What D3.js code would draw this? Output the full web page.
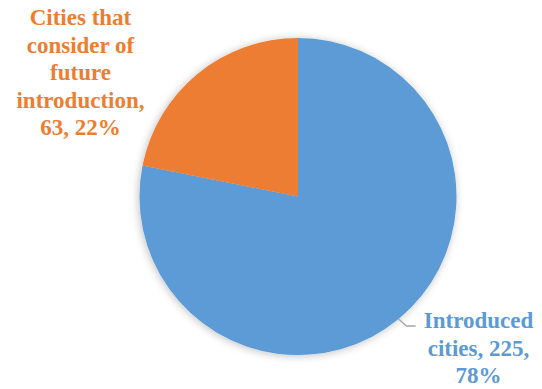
<!DOCTYPE html>
<html>
<head>
<meta charset="utf-8">
<script src="https://cdn.jsdelivr.net/npm/d3@7"></script>
<style>
  html, body { margin: 0; padding: 0; background: #fff; }
  svg { display: block; }
  .lbl { font-family: "Liberation Serif", Tinos, "Times New Roman", "DejaVu Serif", serif; font-weight: bold; font-size: 23px; }
</style>
</head>
<body>
<svg id="chart" width="542" height="389"></svg>
<script>
// Survey of cities: introduced vs. considering future introduction
const categories = ["Introduced cities", "Cities that consider of future introduction"];
const values = [225, 63];
const percents = ["78%", "22%"];
const colors = ["#5B9BD5", "#ED7D31"];

const svg = d3.select("#chart");
const cx = 298, cy = 196.5, radius = 158.5;

// soft drop shadow under the pie
const defs = svg.append("defs");
const f = defs.append("filter").attr("id", "shadow")
  .attr("x", "-20%").attr("y", "-20%").attr("width", "140%").attr("height", "140%");
f.append("feGaussianBlur").attr("in", "SourceAlpha").attr("stdDeviation", 4).attr("result", "b");
f.append("feOffset").attr("in", "b").attr("dx", -1).attr("dy", 1).attr("result", "o");
f.append("feComponentTransfer").attr("in", "o").attr("result", "s")
  .append("feFuncA").attr("type", "linear").attr("slope", 0.25);
const m = f.append("feMerge");
m.append("feMergeNode").attr("in", "s");
m.append("feMergeNode").attr("in", "SourceGraphic");

const pie = d3.pie().sort(null).value(d => d)(values);
const arc = d3.arc().innerRadius(0).outerRadius(radius);

const g = svg.append("g").attr("transform", `translate(${cx},${cy})`);
g.append("g").attr("filter", "url(#shadow)")
  .selectAll("path").data(pie).join("path")
  .attr("d", arc)
  .attr("fill", (d, i) => colors[i]);

function drawLabel(lines, x, y0, lh, color) {
  const t = svg.append("text")
    .attr("class", "lbl")
    .attr("text-anchor", "middle")
    .attr("fill", color);
  lines.forEach((s, i) => {
    t.append("tspan").attr("x", x).attr("y", y0 + i * lh).text(s);
  });
}

// leader line for the blue slice, from the arc edge at the slice's middle angle
const blue = pie[0];
const mid = (blue.startAngle + blue.endAngle) / 2;
const p0 = [cx + radius * Math.sin(mid), cy - radius * Math.cos(mid)];
const p1 = [p0[0] + 8, p0[1] + 7];
const p2 = [p1[0] + 9, p1[1]];
svg.append("path")
  .attr("d", d3.line()([p0, p1, p2]))
  .attr("fill", "none")
  .attr("stroke", "#A6A6A6")
  .attr("stroke-width", 1.3);

drawLabel(["Introduced", `cities, ${values[0]},`, percents[0]], 478.5, 328, 27.5, colors[0]);
drawLabel(["Cities that", "consider of", "future", "introduction,", `${values[1]}, ${percents[1]}`],
  80.5, 25, 27.5, colors[1]);
</script>
</body>
</html>
